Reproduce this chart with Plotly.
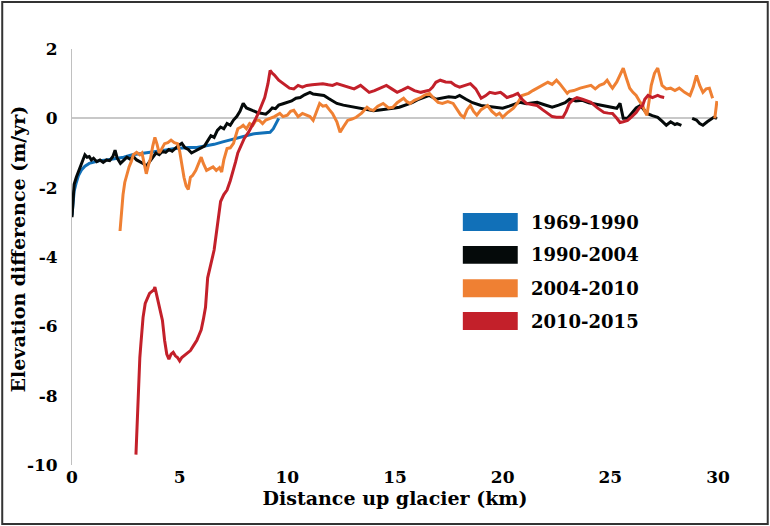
import plotly.graph_objects as go

# ---------------- data ----------------
blue_x = [0, 0.05, 0.1, 0.2, 0.3, 0.45, 0.6, 0.8, 1.0, 1.3, 1.6, 2.0, 2.4, 2.8, 3.2, 3.5, 3.9, 4.3, 4.7, 5.0,
          5.4, 5.8, 6.2, 6.6, 7.0, 7.4, 7.8, 8.1, 8.4, 8.7, 9.0, 9.2, 9.35, 9.5, 9.6]
blue_y = [-2.8, -2.4, -2.1, -1.85, -1.65, -1.48, -1.38, -1.3, -1.26, -1.22, -1.2, -1.17, -1.12, -1.05, -1.02,
          -0.98, -0.95, -0.92, -0.88, -0.86, -0.84, -0.84, -0.8, -0.75, -0.68, -0.62, -0.55, -0.5, -0.45,
          -0.43, -0.42, -0.4, -0.3, -0.12, 0.0]

black_x = [0, 0.05, 0.1, 0.2, 0.35, 0.5, 0.6, 0.7, 0.8, 0.9, 1.0, 1.15, 1.3, 1.45, 1.6, 1.75, 1.9, 2.0, 2.1,
           2.25, 2.4, 2.55, 2.7, 2.85, 3.0, 3.15, 3.3, 3.45, 3.6, 3.75, 3.9, 4.05, 4.2, 4.35, 4.5, 4.65, 4.8,
           4.95, 5.1, 5.25, 5.4, 5.55, 5.7, 5.85, 6.0, 6.15, 6.3, 6.45, 6.6, 6.75, 6.9, 7.05, 7.2, 7.35, 7.5,
           7.65, 7.8, 7.95, 8.1, 8.25, 8.4, 8.6, 8.8, 9.0, 9.15, 9.3, 9.45, 9.6, 9.8, 10.0, 10.2, 10.4, 10.6,
           10.8, 11.05, 11.2, 11.4, 11.7, 11.9, 12.1, 12.3, 12.6, 12.9, 13.2, 13.5, 13.8, 14.0, 14.2, 14.5,
           14.8, 15.0, 15.2, 15.5, 15.8, 16.1, 16.3, 16.6, 16.9, 17.2, 17.5, 17.8, 18.0, 18.3, 18.6, 19.0,
           19.3, 19.6, 20.0, 20.3, 20.6, 20.8, 21.1, 21.4, 21.6, 21.9, 22.1, 22.3, 22.6, 22.9, 23.1, 23.4,
           23.7, 24.0, 24.4, 24.7, 25.0, 25.3, 25.45, 25.6, 25.8, 26.0, 26.2, 26.4, 26.55, 26.7, 26.95, 27.2,
           27.4, 27.6, 27.8, 28.0, 28.1, 28.3, None, 28.8, 29.0, 29.15, 29.3, 29.5, 29.7, 29.8, 29.95]
black_y = [-2.85, -2.3, -1.9, -1.7, -1.45, -1.25, -1.05, -1.12, -1.1, -1.2, -1.15, -1.25, -1.2, -1.27, -1.2,
           -1.22, -1.1, -0.92, -1.15, -1.3, -1.2, -1.12, -1.18, -1.1, -1.2, -1.25, -1.3, -1.38, -1.25, -1.1,
           -1.0, -1.05, -0.95, -0.98, -0.9, -0.95, -0.85, -0.78, -0.72, -0.85, -0.9, -1.0, -0.95, -0.9, -0.85,
           -0.8, -0.65, -0.5, -0.55, -0.35, -0.25, -0.3, -0.15, -0.2, -0.05, 0.05, 0.2, 0.43, 0.3, 0.25, 0.22,
           0.17, 0.15, 0.12, 0.2, 0.3, 0.28, 0.38, 0.42, 0.46, 0.5, 0.58, 0.6, 0.68, 0.75, 0.7, 0.68, 0.66,
           0.58, 0.5, 0.43, 0.38, 0.35, 0.32, 0.28, 0.26, 0.22, 0.23, 0.25, 0.28, 0.3, 0.32, 0.38, 0.45, 0.55,
           0.6, 0.66, 0.55, 0.58, 0.62, 0.6, 0.66, 0.55, 0.45, 0.37, 0.35, 0.32, 0.29, 0.35, 0.42, 0.46, 0.42,
           0.45, 0.46, 0.4, 0.35, 0.32, 0.38, 0.45, 0.55, 0.5, 0.52, 0.45, 0.4, 0.37, 0.33, 0.29, 0.43, 0.0,
           0.0, 0.15, 0.3, 0.37, 0.25, 0.14, 0.08, 0.03, -0.08, -0.2, -0.1, -0.18, -0.15, -0.2, None, 0.0,
           -0.05, -0.15, -0.2, -0.1, 0.0, 0.03, 0.0]

orange_x = [2.23, 2.3, 2.37, 2.45, 2.55, 2.65, 2.75, 2.85, 3.0, 3.15, 3.25, 3.35, 3.45, 3.55, 3.65, 3.75, 3.85,
            3.95, 4.05, 4.15, 4.3, 4.45, 4.6, 4.75, 4.9, 5.0, 5.1, 5.2, 5.3, 5.4, 5.5, 5.6, 5.75, 5.9, 6.0,
            6.1, 6.25, 6.4, 6.55, 6.7, 6.85, 6.95, 7.05, 7.2, 7.35, 7.5, 7.6, 7.7, 7.85, 7.95, 8.1, 8.25, 8.4,
            8.55, 8.7, 8.85, 9.0, 9.2, 9.4, 9.65, 9.8, 10.0, 10.15, 10.3, 10.5, 10.7, 10.9, 11.05, 11.2,
            11.35, 11.5, 11.65, 11.8, 11.95, 12.1, 12.3, 12.45, 12.6, 12.8, 13.0, 13.2, 13.45, 13.7, 13.85,
            14.0, 14.2, 14.45, 14.7, 14.9, 15.1, 15.4, 15.55, 15.7, 15.9, 16.2, 16.4, 16.6, 16.8, 17.0, 17.2,
            17.45, 17.7, 17.9, 18.05, 18.2, 18.35, 18.5, 18.65, 18.8, 19.0, 19.3, 19.5, 19.7, 19.85, 20.0,
            20.2, 20.5, 20.7, 20.9, 21.2, 21.4, 21.6, 21.85, 22.1, 22.3, 22.5, 22.65, 22.8, 23.0, 23.1, 23.3,
            23.6, 23.85, 24.1, 24.3, 24.5, 24.7, 24.85, 25.0, 25.1, 25.3, 25.45, 25.6, 25.75, 25.9, 26.05,
            26.2, 26.35, 26.5, 26.6, 26.7, 26.8, 26.9, 27.05, 27.2, 27.3, 27.4, 27.6, 27.8, 28.0, 28.2,
            28.45, 28.7, 28.85, 29.0, 29.15, 29.3, 29.45, 29.6, 29.75, None, 29.85, 29.95]
orange_y = [-3.25, -2.7, -2.2, -1.85, -1.6, -1.4, -1.25, -1.05, -0.98, -1.05, -1.0, -1.3, -1.6, -1.35, -1.15,
            -0.8, -0.55, -0.75, -1.0, -0.9, -0.73, -0.7, -0.63, -0.7, -0.73, -0.95, -1.4, -1.7, -1.95, -2.05,
            -1.7, -1.65, -1.5, -1.3, -1.12, -1.3, -1.5, -1.45, -1.4, -1.5, -1.42, -1.55, -1.2, -0.87, -0.85,
            -0.72, -0.5, -0.3, -0.25, -0.2, -0.3, -0.15, -0.2, -0.05, -0.06, -0.15, -0.05, 0.0, 0.05, 0.14,
            0.05, 0.09, 0.2, 0.23, 0.05, 0.14, 0.1, 0.05, -0.06, 0.2, 0.43, 0.35, 0.37, 0.25, 0.14, -0.1,
            -0.4, -0.25, -0.06, -0.02, 0.03, 0.15, 0.32, 0.25, 0.23, 0.35, 0.43, 0.3, 0.32, 0.45, 0.58, 0.48,
            0.43, 0.52, 0.6, 0.68, 0.72, 0.58, 0.46, 0.43, 0.48, 0.43, 0.25, 0.1, 0.03, 0.25, 0.37, 0.2, 0.09,
            0.25, 0.37, 0.2, 0.09, 0.15, 0.03, 0.15, 0.29, 0.45, 0.66, 0.72, 0.8, 0.87, 0.95, 1.04, 0.98, 1.1,
            1.0, 0.87, 0.72, 0.78, 0.8, 0.87, 0.9, 0.95, 0.85, 0.95, 1.0, 1.1, 0.95, 0.87, 1.05, 1.25, 1.45,
            1.15, 0.87, 0.75, 0.66, 0.5, 0.37, 0.2, 0.09, 0.5, 0.95, 1.3, 1.45, 1.2, 0.95, 0.85, 0.87, 0.8,
            0.87, 0.75, 0.66, 0.9, 1.24, 0.95, 0.75, 0.85, 0.87, 0.58, None, 0.0, 0.5]

red_x = [2.97, 3.0, 3.02, 3.05, 3.1, 3.15, 3.2, 3.25, 3.3, 3.4, 3.5, 3.6, 3.7, 3.8, 3.85, 3.9, 4.0, 4.1, 4.2,
         4.3, 4.4, 4.5, 4.6, 4.7, 4.8, 4.9, 5.0, 5.1, 5.2, 5.35, 5.5, 5.65, 5.8, 5.9, 6.0, 6.1, 6.2, 6.3, 6.45,
         6.6, 6.75, 6.9, 7.05, 7.2, 7.35, 7.5, 7.6, 7.7, 7.85, 8.0, 8.2, 8.35, 8.5, 8.65, 8.8, 8.95, 9.1, 9.2,
         9.3, 9.4, 9.6, 9.8, 10.0, 10.1, 10.3, 10.5, 10.7, 10.9, 11.15, 11.4, 11.65, 11.9, 12.1, 12.3, 12.6,
         12.9, 13.1, 13.4, 13.6, 13.8, 14.05, 14.3, 14.6, 14.85, 15.1, 15.35, 15.6, 15.9, 16.2, 16.4, 16.6,
         16.75, 16.9, 17.1, 17.35, 17.6, 17.8, 18.0, 18.25, 18.5, 18.75, 19.0, 19.2, 19.4, 19.65, 19.9, 20.05,
         20.2, 20.45, 20.7, 20.9, 21.1, 21.35, 21.6, 21.85, 22.1, 22.3, 22.5, 22.65, 22.8, 22.95, 23.1, 23.3,
         23.45, 23.7, 23.9, 24.1, 24.4, 24.7, 24.9, 25.1, 25.3, 25.45, 25.6, 25.8, 26.0, 26.2, 26.35, 26.5,
         26.6, 26.75, 26.95, 27.2, 27.35, 27.5]
red_y = [-9.7, -9.2, -8.8, -8.1, -7.3, -6.9, -6.5, -6.0, -5.74, -5.34, -5.2, -5.05, -5.0, -4.95, -4.87, -5.0,
         -5.25, -5.55, -5.83, -6.4, -6.8, -6.95, -6.8, -6.75, -6.85, -6.9, -7.0, -6.9, -6.85, -6.8, -6.7, -6.55,
         -6.4, -6.25, -6.1, -5.8, -5.45, -4.6, -4.2, -3.8, -3.1, -2.4, -2.2, -2.07, -1.8, -1.5, -1.25, -1.0,
         -0.8, -0.58, -0.4, -0.2, -0.05, 0.14, 0.35, 0.6, 1.0, 1.38, 1.3, 1.25, 1.1, 1.0, 0.9, 0.87, 0.85,
         0.95, 0.9, 0.95, 0.97, 0.98, 1.0, 0.97, 0.95, 1.0, 0.95, 0.9, 0.85, 0.95, 0.85, 0.75, 0.8, 0.87, 0.95,
         0.85, 0.75, 0.82, 0.9, 0.8, 0.75, 0.78, 0.81, 0.9, 1.04, 1.1, 1.05, 1.04, 0.95, 0.9, 0.95, 1.0, 0.85,
         0.58, 0.65, 0.75, 0.72, 0.75, 0.68, 0.6, 0.65, 0.72, 0.55, 0.43, 0.4, 0.37, 0.25, 0.14, 0.05, 0.03,
         0.02, 0.03, 0.2, 0.43, 0.55, 0.6, 0.55, 0.5, 0.46, 0.3, 0.17, 0.15, 0.14, 0.0, -0.12, -0.1, -0.06,
         0.05, 0.17, 0.3, 0.37, 0.55, 0.66, 0.6, 0.66, 0.62, 0.6]

series_names = ["1969-1990", "1990-2004", "2004-2010", "2010-2015"]
series_colors = ["#1170b8", "#050a0a", "#ef8033", "#c3202a"]
x_ticks = [0, 5, 10, 15, 20, 25, 30]
y_ticks = [2, 0, -2, -4, -6, -8, -10]
y_tick_text = ["2", "0", "-2", "-4", "-6", "-8", "-10"]

# ---------------- figure ----------------
FONT = "DejaVu Serif"
fig = go.Figure()
for xs, ys, name, col in zip([blue_x, black_x, orange_x, red_x], [blue_y, black_y, orange_y, red_y],
                              series_names, series_colors):
    fig.add_trace(go.Scatter(x=xs, y=ys, mode="lines", name=name, showlegend=False,
                             line=dict(color=col, width=3), connectgaps=False))

# manual legend (boxes + labels)
box_x0, box_x1, text_x = 0.605, 0.690, 0.707
centers = [0.584, 0.505, 0.425, 0.346]
half = 0.0215
for name, col, cy in zip(series_names, series_colors, centers):
    fig.add_shape(type="rect", xref="paper", yref="paper", x0=box_x0, x1=box_x1, y0=cy - half, y1=cy + half,
                  fillcolor=col, line=dict(width=0))
    fig.add_annotation(xref="paper", yref="paper", x=text_x, y=cy, text=name, showarrow=False,
                       xanchor="left", yanchor="middle",
                       font=dict(family=FONT, size=18, color="black", weight="bold"))

# y-axis title as rotated annotation
fig.add_annotation(xref="paper", yref="paper", x=-0.084, y=0.52, text="Elevation difference (m/yr)",
                   textangle=-90, showarrow=False, xanchor="center", yanchor="middle",
                   font=dict(family=FONT, size=19, color="black", weight="bold"))

# outer frame
fig.add_shape(type="rect", xref="paper", yref="paper", x0=-0.108, x1=1.077, y0=-0.142, y1=1.113,
              line=dict(color="#333333", width=2), fillcolor="rgba(0,0,0,0)", layer="below")

fig.update_layout(
    width=770, height=526,
    margin=dict(l=72, r=52, t=49, b=61, autoexpand=False),
    paper_bgcolor="white", plot_bgcolor="white",
    font=dict(family=FONT, color="black"),
    xaxis=dict(range=[0, 30], tickvals=x_ticks, showgrid=False, zeroline=False, showline=False,
               ticks="", automargin=False,
               tickfont=dict(family=FONT, size=17, color="black", weight="bold"),
               title=dict(text="Distance up glacier (km)", standoff=4,
                          font=dict(family=FONT, size=19, color="black", weight="bold"))),
    yaxis=dict(range=[-10, 2], tickvals=y_ticks, ticktext=y_tick_text, showgrid=False, zeroline=True,
               zerolinecolor="#c8c8c8", zerolinewidth=1.5, showline=True, linecolor="#c0c0c0", linewidth=1,
               ticks="", ticklabelstandoff=10, automargin=False,
               tickfont=dict(family=FONT, size=17, color="black", weight="bold")),
)

fig.write_html("out.html")
